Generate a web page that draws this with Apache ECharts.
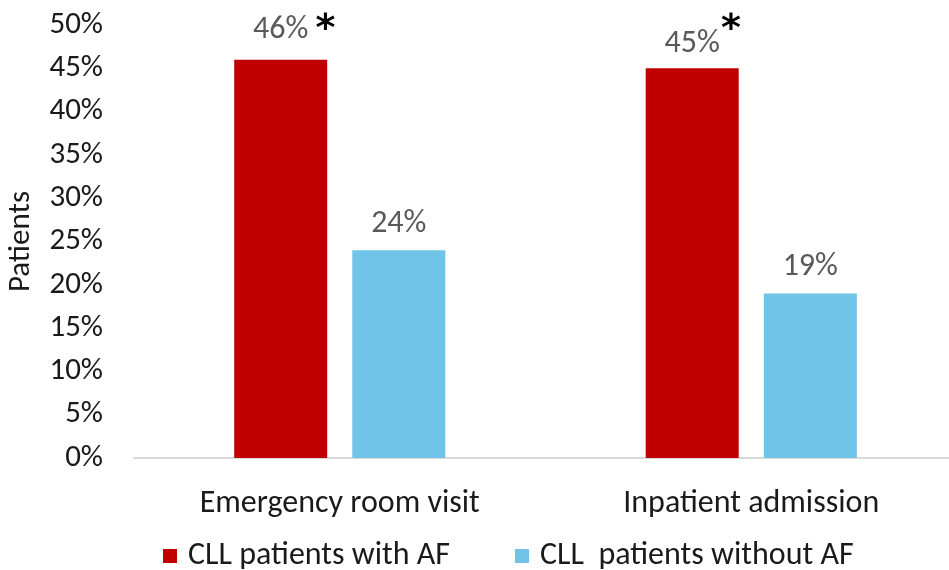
<!DOCTYPE html>
<html>
<head>
<meta charset="utf-8">
<script src="https://cdn.jsdelivr.net/npm/echarts@6/dist/echarts.min.js"></script>
<style>html,body{margin:0;padding:0;background:#fff;}#c{width:949px;height:570px;}</style>
</head>
<body>
<div id="c"></div>
<script>
var categories = ['Emergency room visit', 'Inpatient admission'];
var withAF = [46, 45];
var withoutAF = [24, 19];
var seriesNames = ['CLL patients with AF', 'CLL  patients without AF'];
var sigMarks = ['*', '*'];
var yTicks = { min: 0, max: 50, interval: 5 };

var FONT = 'Carlito, Lato, "Open Sans", sans-serif';
var STAR_FONT = '"DejaVu Sans", sans-serif';
var redLabelDistance = [11, 5];

var chart = echarts.init(document.getElementById('c'), null, { renderer: 'canvas' });
chart.setOption({
  backgroundColor: '#ffffff',
  animation: false,
  textStyle: { fontFamily: FONT },
  grid: { left: 134, width: 823, top: 25, bottom: 112, containLabel: false, outerBoundsMode: 'none' },
  legend: {
    data: seriesNames,
    left: 158, top: 535,
    icon: 'rect', itemWidth: 14, itemHeight: 14, itemGap: 65,
    textStyle: { fontFamily: FONT, fontSize: 32, color: '#1a1a1a', padding: [0, 0, 0, 6] }
  },
  xAxis: {
    type: 'category',
    data: categories,
    axisLine: { lineStyle: { color: '#d9d9d9', width: 2 } },
    axisTick: { show: false },
    axisLabel: { fontFamily: FONT, fontSize: 32, color: '#1a1a1a', margin: 30 }
  },
  yAxis: {
    type: 'value',
    min: yTicks.min, max: yTicks.max, interval: yTicks.interval,
    name: 'Patients', nameLocation: 'middle', nameGap: 97,
    nameTextStyle: { fontFamily: FONT, fontSize: 31, color: '#1a1a1a' },
    axisLine: { show: false }, axisTick: { show: false }, splitLine: { show: false },
    axisLabel: { fontFamily: FONT, fontSize: 31, color: '#1a1a1a', margin: 31, formatter: '{value}%' }
  },
  series: [
    {
      name: seriesNames[0], type: 'bar', barWidth: 93, barGap: '27%',
      data: withAF.map(function (v, i) { return { value: v, label: { distance: redLabelDistance[i] } }; }),
      itemStyle: { color: '#c00000' },
      label: {
        show: true, position: 'top',
        formatter: function (p) {
          var k = p.dataIndex + 1;
          return '{p' + k + '|}{v|' + p.value + '%}{s' + k + '|' + sigMarks[p.dataIndex] + '}';
        },
        rich: {
          v: { fontFamily: FONT, fontSize: 32, lineHeight: 38, color: '#595959' },
          p1: { width: 27 },
          p2: { width: 21 },
          s1: { fontFamily: STAR_FONT, fontSize: 38, fontWeight: 'bold', color: '#000', width: 27, align: 'right', lineHeight: 38, verticalAlign: 'middle' },
          s2: { fontFamily: STAR_FONT, fontSize: 38, fontWeight: 'bold', color: '#000', width: 21, align: 'right', lineHeight: 38, verticalAlign: 'middle', padding: [0, 0, 28, 0] }
        }
      }
    },
    {
      name: seriesNames[1], type: 'bar', data: withoutAF, barWidth: 93,
      itemStyle: { color: '#70c4e8' },
      label: { show: true, position: 'top', distance: 10, formatter: '{c}%', fontFamily: FONT, fontSize: 32, color: '#595959' }
    }
  ]
});
</script>
</body>
</html>
